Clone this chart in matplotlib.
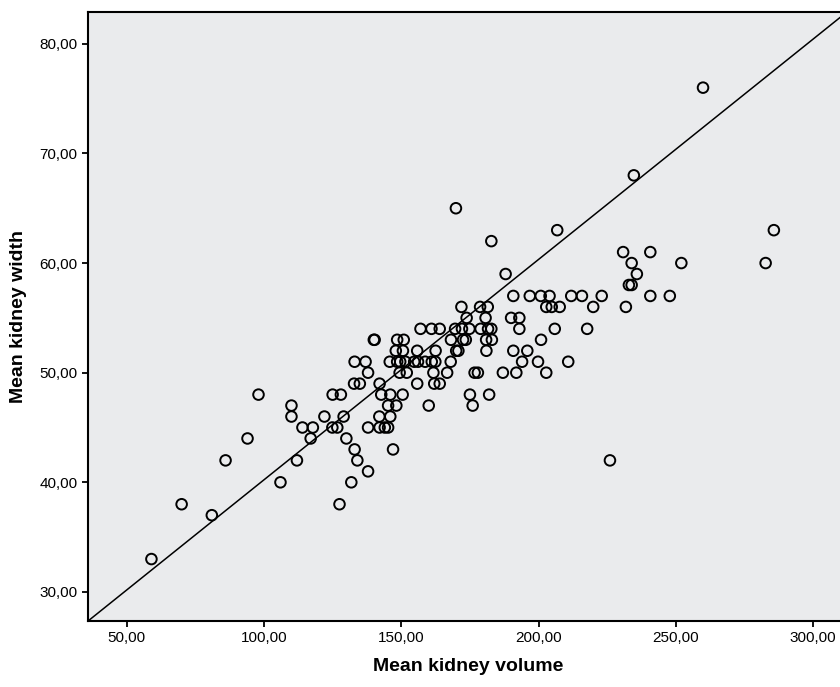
import matplotlib
matplotlib.use('Agg')
import matplotlib.pyplot as plt
from matplotlib.ticker import FuncFormatter
import numpy as np

plt.rcParams['font.family'] = ['Liberation Sans', 'DejaVu Sans']

# values, grouped by kidney width row
mean_volume = [
    59,
    81,
    70, 127.5,
    106, 131.8,
    137.9,
    86, 112, 134, 226,
    133, 147,
    94, 117, 130,
    114, 117.8, 124.9, 126.7, 137.9, 142.1, 144.0, 145.2,
    110, 122, 129, 142, 146,
    110, 145.2, 148.2, 160, 176,
    98, 125, 128, 142.7, 146, 150.5, 175, 182,
    132.8, 134.9, 142.1, 155.8, 162, 164,
    137.9, 149.4, 152, 161.7, 166.7, 176.7, 177.9, 187, 191.9, 202.8,
    133, 137, 145.8, 148.5, 149.6, 151.5, 154.7, 156.1, 158.7, 161.1, 162.4, 168, 194, 199.8, 210.8,
    148, 150.6, 155.8, 162.5, 170, 170.8, 181, 190.8, 195.9,
    140, 140.3, 148.5, 150.9, 168.1, 172.5, 173.5, 180.9, 183, 200.9,
    157, 161, 164, 169.6, 172.1, 174.8, 178.9, 181.6, 182.8, 193, 205.9, 217.7,
    173.8, 180.7, 190, 193,
    171.9, 178.7, 181.5, 202.8, 204.8, 207.7, 219.9, 231.8,
    190.8, 196.8, 200.8, 204, 211.9, 215.8, 223, 240.7, 247.8,
    232.9, 233.9,
    188, 235.8,
    233.9, 252, 282.7,
    230.8, 240.7,
    182.8,
    206.8, 285.7,
    169.9,
    234.7,
    259.9,
]
mean_width = (
    [33] * 1 + [37] * 1 + [38] * 2 + [40] * 2 + [41] * 1 + [42] * 4 + [43] * 2 + [44] * 3
    + [45] * 8 + [46] * 5 + [47] * 5 + [48] * 8 + [49] * 6 + [50] * 10 + [51] * 15
    + [52] * 9 + [53] * 10 + [54] * 12 + [55] * 4 + [56] * 8 + [57] * 9 + [58] * 2
    + [59] * 2 + [60] * 3 + [61] * 2 + [62] * 1 + [63] * 2 + [65] * 1 + [68] * 1 + [76] * 1
)

# fit line as shown
fit_intercept = 20.13
fit_slope = 0.201

x_ticks = [50, 100, 150, 200, 250, 300]
y_ticks = [30, 40, 50, 60, 70, 80]
x_lim = (35.9, 312.7)
y_lim = (27.35, 82.9)

fig = plt.figure(figsize=(8.4, 6.87), dpi=100)
ax = fig.add_axes([88 / 840, 66 / 687, 760 / 840, 609 / 687])
ax.set_facecolor('#eaebed')

ax.scatter(mean_volume, mean_width, s=58, facecolors='none', edgecolors='black',
           linewidths=1.4, zorder=3)

xs = np.array(x_lim)
ax.plot(xs, fit_intercept + fit_slope * xs, color='black', linewidth=1.1, zorder=2)

ax.set_xlim(*x_lim)
ax.set_ylim(*y_lim)
ax.set_xticks(x_ticks)
ax.set_yticks(y_ticks)
fmt = FuncFormatter(lambda v, p: f'{v:.2f}'.replace('.', ','))
ax.xaxis.set_major_formatter(fmt)
ax.yaxis.set_major_formatter(fmt)
ax.tick_params(direction='out', length=4.5, width=1.3, labelsize=11, pad=3)

for side in ['left', 'bottom', 'top']:
    ax.spines[side].set_linewidth(1.5)
ax.spines['right'].set_visible(False)

ax.set_xlabel('Mean kidney volume', fontsize=14, fontweight='bold', labelpad=9)
ax.set_ylabel('Mean kidney width', fontsize=14, fontweight='bold', labelpad=9)

fig.savefig('out.png', dpi=100)
